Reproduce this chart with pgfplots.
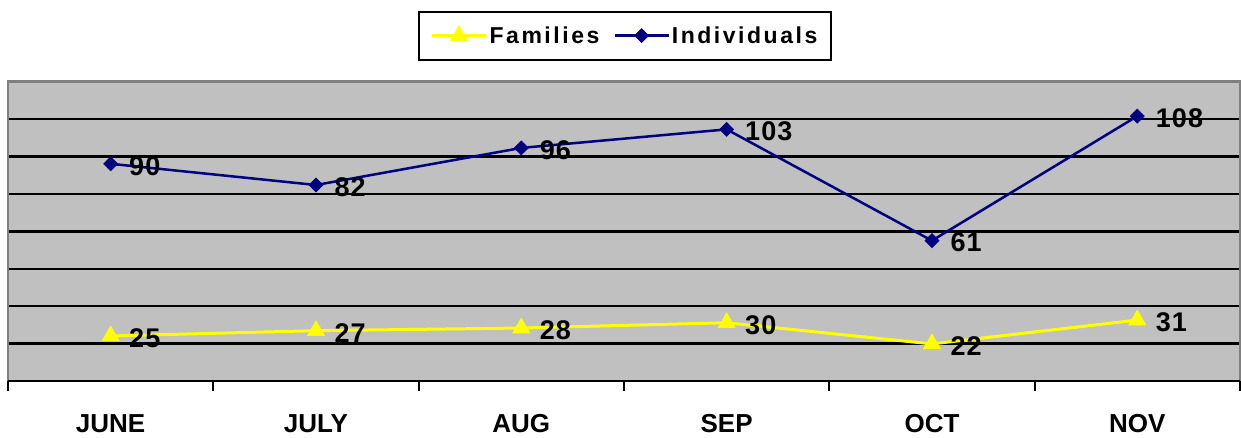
\documentclass[border=0pt]{standalone}
\usepackage{fontspec}
\setmainfont{Liberation Sans}
\usepackage{pgfplots}
\pgfplotsset{compat=1.18}
\definecolor{plotgray}{HTML}{C0C0C0}
\definecolor{navyc}{HTML}{000080}
\definecolor{yelc}{HTML}{FFFF00}
\definecolor{framec}{HTML}{808080}
\begin{document}
\begin{tikzpicture}
\begin{axis}[
  scale only axis, width=1232pt, height=299.3pt,
  at={(0pt,0pt)}, anchor=south west,
  xmin=-0.5, xmax=5.5, ymin=8, ymax=121,
  clip=false,
  /pgf/number format/assume math mode=true,
  axis background/.style={fill=plotgray},
  separate axis lines,
  axis line style={draw=none},
  every outer x axis line/.append style={draw=none},
  every outer y axis line/.append style={draw=none},
  xtick={0,...,5},
  xticklabels={JUNE,JULY,AUG,SEP,OCT,NOV},
  xtick pos=left,
  tick align=outside,
  major tick length=0pt,
  extra x ticks={-0.5,0.5,1.5,2.5,3.5,4.5,5.5},
  extra x tick labels={},
  extra x tick style={major tick length=10pt, tick style={draw=black, line width=2pt}},
  xticklabel style={anchor=base, yshift=-51pt, font=\fontsize{26}{30}\selectfont\bfseries},
  ytick={22.125,36.25,50.375,64.5,78.625,92.75,106.875},
  yticklabels={},
  ytick style={draw=none},
  ymajorgrids,
  major grid style={draw=black, line width=2.5pt},
  legend style={at={(axis description cs:0.5008,1.154)}, anchor=center,
    draw=black, line width=2pt, fill=white, legend columns=2,
    font=\fontsize{23}{27}\selectfont\bfseries\addfontfeature{LetterSpace=11},
    inner xsep=12pt, inner ysep=13pt,
    /tikz/every even column/.append style={column sep=12pt}},
  legend image code/.code={\draw[mark repeat=2,mark phase=2,#1] plot coordinates {(0pt,0pt) (27pt,0pt) (54pt,0pt)};},
  nodes near coords,
  every node near coord/.append style={anchor=west, xshift=15pt, yshift=-2pt, text=black, font=\fontsize{27}{30}\selectfont\bfseries\addfontfeature{LetterSpace=4}},
  after end axis/.code={
    \draw[framec, line width=2.5pt] (rel axis cs:0,0) -- (rel axis cs:0,1) -- (rel axis cs:1,1) -- (rel axis cs:1,0);
    \draw[black, line width=2.5pt] (rel axis cs:0,0) -- (rel axis cs:1,0);
  },
]
\addplot[color=yelc, line width=3pt, mark=triangle*, mark size=10pt, mark options={fill=yelc, draw=yelc, line width=0.5pt}]
  coordinates {(0,25) (1,27) (2,28) (3,30) (4,22) (5,31)};
\addlegendentry{Families}
\addplot[color=navyc, line width=2.5pt, mark=square*, mark size=5pt, mark options={fill=navyc, draw=navyc, line width=0.5pt, rotate=45}]
  coordinates {(0,90) (1,82) (2,96) (3,103) (4,61) (5,108)};
\addlegendentry{Individuals}
\end{axis}
\pgfresetboundingbox
\path[use as bounding box] (-8pt,-56pt) rectangle (1233pt,381pt);
\end{tikzpicture}
\end{document}
